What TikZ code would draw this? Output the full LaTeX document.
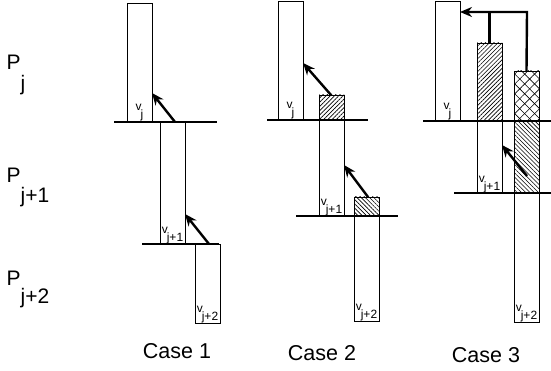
\documentclass[tikz,border=0pt]{standalone}
\usepackage{fontspec}
\setmainfont{Liberation Sans}
\usetikzlibrary{arrows.meta,patterns.meta}

\tikzset{
  bar/.style={draw, line width=0.9pt, minimum width=25pt, inner sep=0pt, outer sep=0pt, anchor=south west},
  level/.style={line width=2.8pt},
  push/.style={line width=2.4pt, -{Stealth[length=12pt,width=10pt]}},
  stem/.style={line width=2.4pt},
  plab/.style={font=\fontsize{21}{21}\selectfont, anchor=base west, inner sep=0pt},
  vlab/.style={font=\fontsize{12}{12}\selectfont, anchor=base, inner sep=0pt},
  caselab/.style={font=\fontsize{21.5}{21.5}\selectfont, anchor=base, inner sep=0pt},
  hatchne/.style={pattern={Lines[angle=45,distance=3pt,line width=0.6pt]}},
  hatchnw/.style={pattern={Lines[angle=-45,distance=3pt,line width=0.6pt]}},
  hatchx/.style={pattern={Lines[angle=45,distance=7pt,line width=0.6pt]},
    postaction={pattern={Lines[angle=-45,distance=7pt,line width=0.6pt]}}}
}

\begin{document}
\begin{tikzpicture}[x=1pt,y=-1pt]
  \useasboundingbox (0,0) rectangle (551,371);

  % processor labels
  \node[plab] (pj0) at (6.5,70) {P\raisebox{-21pt}{j}};
  \node[plab] (pj1) at (6.5,183) {P\raisebox{-20pt}{j+1}};
  \node[plab] (pj2) at (6.5,285) {P\raisebox{-18pt}{j+2}};

  % case 1
  \node[bar, minimum height=119pt] (c1vj0) at (127,122) {};
  \node[bar, minimum height=122pt] (c1vj1) at (160,244) {};
  \node[bar, minimum height=79pt] (c1vj2) at (195,323) {};
  \draw[level] (114,122) -- (217,122);
  \draw[level] (142,244) -- (219,244);
  \coordinate (c1t0) at (175,122);
  \coordinate (c1t1) at (209,244);
  \draw[push] (c1t0) -- ([yshift=29pt]c1vj0.south east);
  \draw[push] (c1t1) -- ([yshift=30pt]c1vj1.south east);
  \node[vlab] (c1l0) at ([yshift=3pt]c1vj0.south) {\raisebox{8pt}{v}\kern-1pt j};
  \node[vlab] (c1l1) at ([yshift=2.5pt]c1vj1.south) {\raisebox{8pt}{v}\kern-1pt j+1};
  \node[vlab] (c1l2) at ([yshift=2.5pt]c1vj2.south) {\raisebox{8pt}{v}\kern-1pt j+2};
  \node[caselab] (case1) at (177,358) {Case 1};

  % case 2
  \node[bar, minimum height=119pt] (c2vj0) at (278,120) {};
  \node[bar, hatchne, minimum height=25pt] (c2h1) at (319,120) {};
  \node[bar, minimum height=96pt] (c2vj1) at (319,216) {};
  \node[bar, hatchnw, minimum height=19pt] (c2h2) at (354,216) {};
  \node[bar, minimum height=105pt] (c2vj2) at (354,321) {};
  \draw[level] (267,120) -- (368,120);
  \draw[level] (296,216) -- (398,216);
  \coordinate (c2t0) at (331,95);
  \coordinate (c2t1) at (368,197);
  \draw[push] (c2t0) -- ([yshift=57pt]c2vj0.south east);
  \draw[push] (c2t1) -- ([yshift=51pt]c2vj1.south east);
  \node[vlab] (c2l0) at ([yshift=3pt]c2vj0.south) {\raisebox{8pt}{v}\kern-1pt j};
  \node[vlab] (c2l1) at ([yshift=2.5pt]c2vj1.south) {\raisebox{8pt}{v}\kern-1pt j+1};
  \node[vlab] (c2l2) at ([yshift=2.5pt]c2vj2.south) {\raisebox{8pt}{v}\kern-1pt j+2};
  \node[caselab] (case2) at (322,360) {Case 2};

  % case 3
  \node[bar, minimum height=120pt] (c3vj0) at (435,121) {};
  \node[bar, hatchne, minimum height=78pt] (c3h1) at (477,121) {};
  \node[bar, hatchx, minimum height=50pt] (c3h2) at (514,121) {};
  \node[bar, minimum height=72pt] (c3vj1) at (477,193) {};
  \node[bar, hatchnw, minimum height=72pt] (c3h3) at (514,193) {};
  \node[bar, minimum height=129pt] (c3vj2) at (514,322) {};
  \draw[level] (423,121) -- (551,121);
  \draw[level] (454,193) -- (551,193);
  \coordinate (c3top) at (527,12);
  \draw[stem] (c3h1.north) -- (c3h1.north |- c3top);
  \draw[push] (c3h2.north) -- (c3top) -- (c3vj0.east |- c3top);
  \coordinate (c3t1) at (527,176);
  \draw[push] (c3t1) -- ([yshift=48pt]c3vj1.south east);
  \node[vlab] (c3l0) at ([yshift=3pt]c3vj0.south) {\raisebox{8pt}{v}\kern-1pt j};
  \node[vlab] (c3l1) at ([yshift=2.5pt]c3vj1.south) {\raisebox{8pt}{v}\kern-1pt j+1};
  \node[vlab] (c3l2) at ([yshift=2.5pt]c3vj2.south) {\raisebox{8pt}{v}\kern-1pt j+2};
  \node[caselab] (case3) at (486,362) {Case 3};
\end{tikzpicture}
\end{document}
